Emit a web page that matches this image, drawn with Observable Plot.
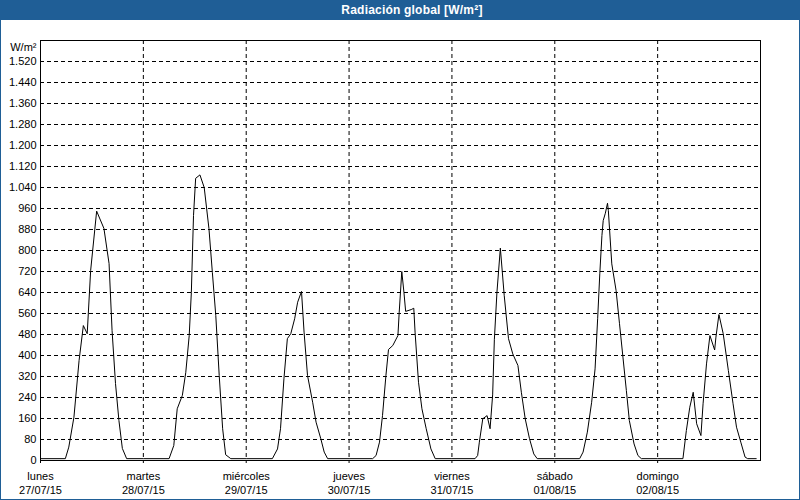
<!DOCTYPE html>
<html>
<head>
<meta charset="utf-8">
<script src="https://cdn.jsdelivr.net/npm/d3@7"></script>
<script src="https://cdn.jsdelivr.net/npm/@observablehq/plot@0.6"></script>
<style>
  html, body { margin: 0; padding: 0; background: white; }
  #wrap { position: relative; width: 800px; height: 500px; overflow: hidden; background: white; }
  #title { position: absolute; left: 0; top: 0; width: 800px; height: 20px; background: #1f5e96;
           color: white; font: bold 12px "Liberation Sans", Arial, sans-serif; line-height: 20px;
           text-align: center; box-sizing: border-box; padding-left: 24px; letter-spacing: 0.2px; }
  #chart { position: absolute; left: 0; top: 20px; }
  #border { position: absolute; left: 0; top: 0; width: 800px; height: 500px; box-sizing: border-box;
            border: 1px solid #1f5e96; pointer-events: none; }
</style>
</head>
<body>
<div id="wrap">
  <div id="title">Radiación global [W/m²]</div>
  <div id="chart"></div>
  <div id="border"></div>
</div>
<script>
// Day labels
const dayNames = ["lunes", "martes", "miércoles", "jueves", "viernes", "sábado", "domingo"];
const dayDates = ["27/07/15", "28/07/15", "29/07/15", "30/07/15", "31/07/15", "01/08/15", "02/08/15"];
const dayStarts = [0, 24, 48, 72, 96, 120, 144];   // hours since 27/07/15 00:00
const yTicks = [0, 80, 160, 240, 320, 400, 480, 560, 640, 720, 800, 880, 960, 1040, 1120, 1200, 1280, 1360, 1440, 1520];

// Global radiation (W/m²), [hour of day, value]
const day1 = [[0,7],[5.8,7],[6.6,51],[7.8,165],[9,381],[10,514],[10.9,483],[11.7,724],[13.1,950],[14.8,884],[16,750],[16.7,495],[17.5,293],[18.3,152],[19.1,46],[20.1,7],[24,7]];
const day2 = [[6,7],[7.1,57],[7.9,197],[9.1,248],[9.9,336],[10.7,476],[11.2,641],[11.7,933],[12.2,1075],[13.2,1088],[14.2,1040],[15.3,884],[16.1,717],[16.9,552],[17.7,324],[18.5,121],[19.2,22],[20.4,7],[24,7]];
const day3 = [[6.1,7],[7.3,44],[8,121],[8.8,311],[9.6,464],[10.4,483],[11.3,540],[12,603],[12.9,644],[13.5,489],[14.3,324],[15.5,222],[16.3,146],[17.4,83],[18.2,32],[19,7],[24,7]];
const day4 = [[5.5,7],[6.3,19],[7.1,70],[7.8,171],[8.6,324],[9.2,423],[10.2,438],[11.4,476],[11.7,565],[12.3,720],[12.8,641],[13.2,568],[14.5,575],[15.1,580],[15.4,489],[16.2,298],[17,197],[18,121],[19.1,44],[20.1,7],[24,7]];
const day5 = [[5.4,7],[6,19],[6.4,70],[7.2,159],[8.2,171],[8.9,121],[9.5,250],[9.9,460],[10.5,640],[11.3,809],[12.2,629],[13.2,464],[14.2,406],[15.4,362],[16.2,260],[17.1,159],[18.1,83],[19.1,25],[19.9,7],[24,7]];
const day6 = [[5.8,7],[6.6,32],[7.6,108],[8.6,222],[9.4,349],[10,540],[10.5,711],[11,857],[11.3,914],[11.8,942],[12.3,980],[12.5,952],[13.3,749],[14.3,648],[15.1,521],[15.9,394],[16.7,267],[17.4,152],[18.5,63],[19.4,19],[20.2,7],[24,7]];
const day7 = [[5.9,7],[6.7,114],[7.5,203],[8.3,260],[9.1,140],[10.1,95],[10.6,216],[11.4,368],[12.2,476],[13.3,421],[13.6,470],[14.3,556],[15.3,483],[16.5,343],[17.6,216],[18.4,127],[19.4,70],[20.4,13],[21,7],[23,7]];

const days = [day1, day2, day3, day4, day5, day6, day7];
const data = days.flatMap((pts, i) => pts.map(([h, v]) => ({t: dayStarts[i] + h, v})));

const fmt = d3.formatLocale({decimal: ",", thousands: ".", grouping: [3], currency: ["", ""]}).format(",d");
const gridStyle = {stroke: "black", strokeOpacity: 1, strokeDasharray: "4,3", strokeWidth: 1};

const chart = Plot.plot({
  width: 800,
  height: 480,
  marginLeft: 40,
  marginRight: 40,
  marginTop: 20,
  marginBottom: 40,
  style: {fontFamily: "'Liberation Sans', Arial, sans-serif", fontSize: "11px", color: "black", background: "white"},
  x: {domain: [0, 168]},
  y: {domain: [0, 1600]},
  marks: [
    Plot.gridY(yTicks.filter(d => d > 0), gridStyle),
    Plot.gridX(dayStarts.filter(d => d > 0), gridStyle),
    Plot.line(data, {x: "t", y: "v", stroke: "black", strokeWidth: 1}),
    Plot.frame({stroke: "black", strokeWidth: 1}),
    Plot.axisY(yTicks, {tickSize: 0, tickPadding: 4, tickFormat: fmt, label: null, fill: "black"}),
    Plot.axisX(dayStarts, {tickSize: 3, tickPadding: 9, tickFormat: d => dayNames[dayStarts.indexOf(d)], label: null, fill: "black", stroke: "black"}),
    Plot.axisX(dayStarts, {tickSize: 0, tickPadding: 26, tickFormat: d => dayDates[dayStarts.indexOf(d)], label: null, fill: "black"}),
    Plot.text(["W/m²"], {frameAnchor: "top-left", textAnchor: "end", lineAnchor: "middle", dx: -4, dy: 7, fill: "black"})
  ]
});
document.getElementById("chart").appendChild(chart);
</script>
</body>
</html>
